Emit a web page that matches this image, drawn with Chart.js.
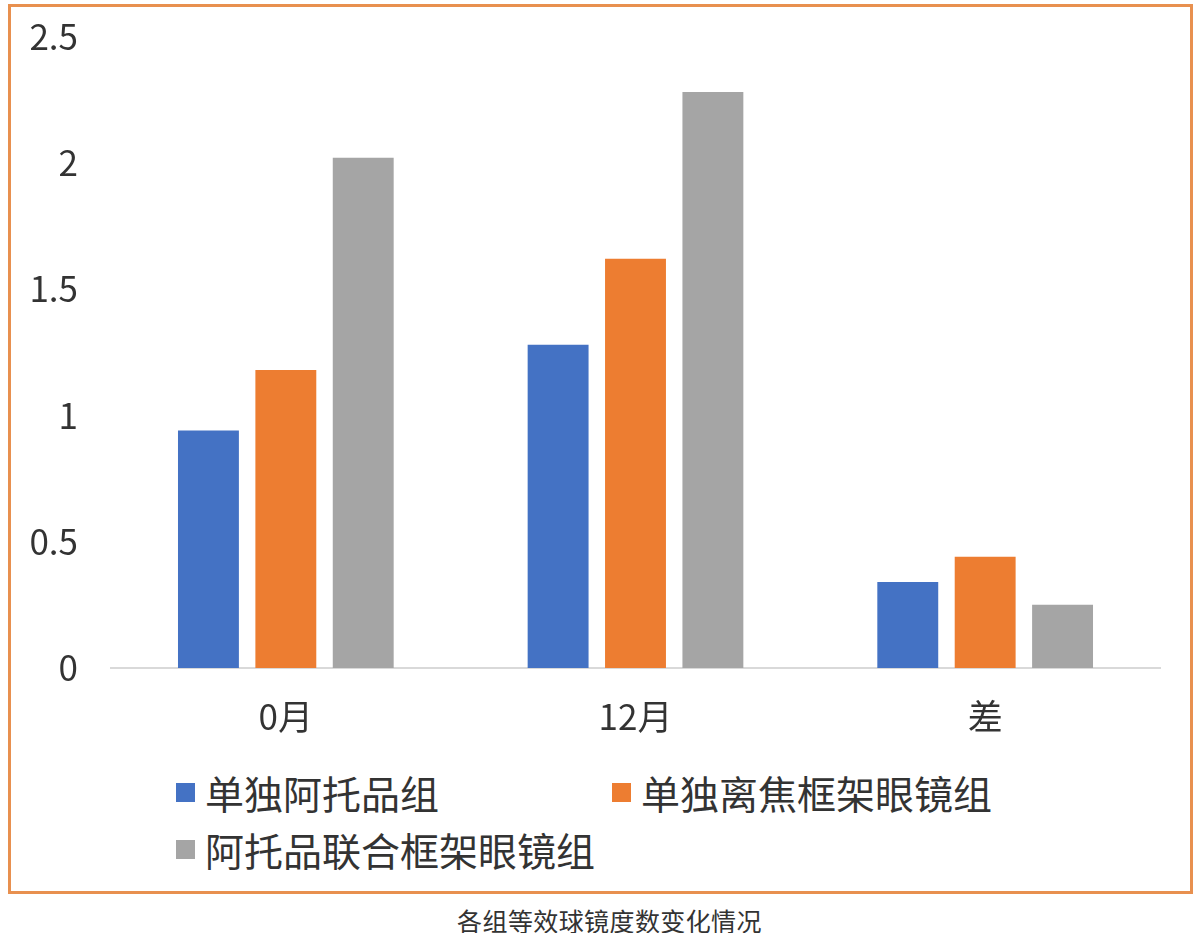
<!DOCTYPE html>
<html lang="zh">
<head>
<meta charset="utf-8">
<title>各组等效球镜度数变化情况</title>
<script src="https://cdn.jsdelivr.net/npm/chart.js@4.4.1/dist/chart.umd.min.js"></script>
<style>
    html, body {
        margin: 0;
        padding: 0;
        background: #FFFFFF;
    }

    body {
        position: relative;
        width: 1197px;
        height: 933px;
        overflow: hidden;
        font-family: 'Noto Sans CJK SC', 'Noto Sans', sans-serif;
        color: #333333;
    }

    .chart-frame {
        position: absolute;
        left: 8px;
        top: 4px;
        width: 1185px;
        height: 890px;
        box-sizing: border-box;
        border: 3px solid #E8904F;
    }

    .chart-wrap {
        position: absolute;
        left: 0;
        top: 0;
        width: 1197px;
        height: 760px;
    }

    .chart-legend {
        position: absolute;
        left: 176px;
        top: 764px;
        display: grid;
        grid-template-columns: 436px auto;
        grid-auto-rows: 57px;
        margin: 0;
        padding: 0;
        list-style: none;
    }

    .chart-legend li {
        display: flex;
        align-items: center;
        font-size: 39px;
        line-height: 1;
        color: #333333;
        white-space: nowrap;
    }

    .chart-legend .swatch {
        display: inline-block;
        width: 19px;
        height: 19px;
        margin-right: 10px;
    }

    .chart-caption {
        position: absolute;
        left: 0;
        top: 905px;
        width: 1219px;
        text-align: center;
        font-size: 25px;
        line-height: 30px;
        letter-spacing: 0.4px;
        color: #333333;
    }
</style>
</head>
<body>
    <div class="chart-frame"></div>
    <div class="chart-wrap">
        <canvas id="sphericalChart" width="1197" height="760"></canvas>
    </div>
    <ul class="chart-legend" id="sphericalLegend"></ul>
    <div class="chart-caption">各组等效球镜度数变化情况</div>

<script>
    // Values (dioptres)
    const categories = ['0月', '12月', '差'];
    const seriesNames = ['单独阿托品组', '单独离焦框架眼镜组', '阿托品联合框架眼镜组'];
    const atropineOnly = [0.94, 1.28, 0.34];
    const defocusOnly = [1.18, 1.62, 0.44];
    const atropineWithDefocus = [2.02, 2.28, 0.25];
    const yTickValues = [0, 0.5, 1, 1.5, 2, 2.5];

    const SERIES_COLORS = ['#4472C4', '#ED7D31', '#A5A5A5'];
    const TEXT_COLOR = '#333333';
    const FONT_FAMILY = "'Noto Sans CJK SC', 'Noto Sans', sans-serif";

    (function () {
        'use strict';

        const seriesValues = [atropineOnly, defocusOnly, atropineWithDefocus];

        const datasets = seriesNames.map((name, i) => ({
            label: name,
            data: seriesValues[i],
            backgroundColor: SERIES_COLORS[i],
            borderWidth: 0,
            categoryPercentage: 0.664,
            barPercentage: 0.787,
        }));

        const canvas = document.getElementById('sphericalChart');

        const chart = new Chart(canvas, {
            type: 'bar',
            data: {
                labels: categories,
                datasets,
            },
            options: {
                responsive: false,
                animation: false,
                devicePixelRatio: 1,
                layout: {
                    padding: { top: 36.5, right: 37, bottom: 20, left: 0 },
                },
                plugins: {
                    legend: { display: false },
                    tooltip: { enabled: false },
                },
                scales: {
                    x: {
                        grid: { display: false, drawTicks: false },
                        border: { display: true, color: '#D9D9D9', width: 2 },
                        ticks: {
                            color: TEXT_COLOR,
                            padding: 28,
                            font: { family: FONT_FAMILY, size: 35 },
                        },
                        afterFit(scale) {
                            scale.height = 72;
                        },
                    },
                    y: {
                        min: yTickValues[0],
                        max: yTickValues[yTickValues.length - 1],
                        afterBuildTicks(scale) {
                            scale.ticks = yTickValues.map(value => ({ value }));
                        },
                        // hidden tick marks give the label gap; ticks.padding would also pad the top
                        grid: { display: false, drawTicks: true, tickLength: 33 },
                        border: { display: false },
                        ticks: {
                            color: TEXT_COLOR,
                            padding: 0,
                            font: { family: FONT_FAMILY, size: 35 },
                            callback: value => String(value),
                        },
                        afterFit(scale) {
                            scale.width = 111;
                        },
                    },
                },
            },
        });

        buildHtmlLegend(chart, document.getElementById('sphericalLegend'));

        function buildHtmlLegend(chartInstance, container) {
            chartInstance.data.datasets.forEach(dataset => {
                const item = document.createElement('li');
                const swatch = document.createElement('span');
                swatch.className = 'swatch';
                swatch.style.background = dataset.backgroundColor;
                item.appendChild(swatch);
                item.appendChild(document.createTextNode(dataset.label));
                container.appendChild(item);
            });
        }
    })();
</script>
</body>
</html>
